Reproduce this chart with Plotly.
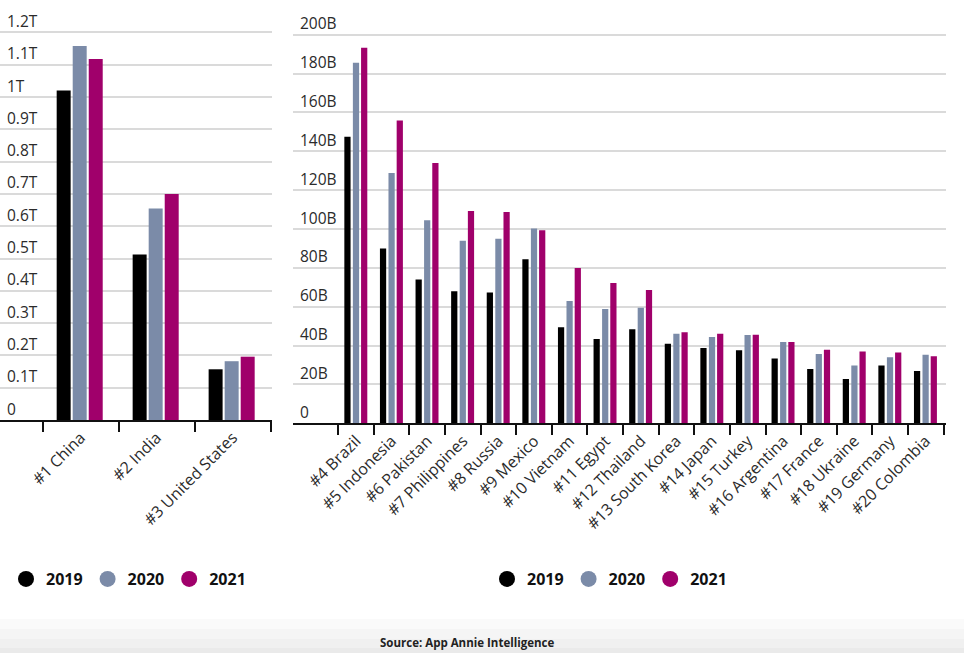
import plotly.graph_objects as go

# ---- data ----
years = ["2019", "2020", "2021"]
colors = ["#000000", "#7b8ba8", "#a0006b"]

top_cats = ["#1 China", "#2 India", "#3 United States"]
top_2019 = [1.02, 0.512, 0.157]   # trillions
top_2020 = [1.158, 0.655, 0.182]
top_2021 = [1.118, 0.700, 0.196]
top_tickvals = [0, 0.1, 0.2, 0.3, 0.4, 0.5, 0.6, 0.7, 0.8, 0.9, 1.0, 1.1, 1.2]
top_ticktext = ["0", "0.1T", "0.2T", "0.3T", "0.4T", "0.5T", "0.6T", "0.7T",
                "0.8T", "0.9T", "1T", "1.1T", "1.2T"]

rest_cats = ["#4 Brazil", "#5 Indonesia", "#6 Pakistan", "#7 Philippines", "#8 Russia",
             "#9 Mexico", "#10 Vietnam", "#11 Egypt", "#12 Thailand", "#13 South Korea",
             "#14 Japan", "#15 Turkey", "#16 Argentina", "#17 France", "#18 Ukraine",
             "#19 Germany", "#20 Colombia"]
rest_2019 = [147.5, 90, 74, 68, 67.3, 84.4, 49.4, 43.4, 48.4, 41, 38.8, 37.6, 33.3, 28, 22.8, 29.7, 26.9]  # billions
rest_2020 = [185.6, 128.8, 104.5, 94, 95, 100.2, 62.9, 58.8, 59.5, 46.1, 44.4, 45.4, 41.8, 35.7, 29.7, 34, 35.3]
rest_2021 = [193.3, 155.9, 134, 109.3, 108.8, 99.3, 79.9, 72.2, 68.6, 46.8, 46.1, 45.6, 41.8, 37.9, 36.9, 36.5, 34.5]
rest_tickvals = [0, 20, 40, 60, 80, 100, 120, 140, 160, 180, 200]
rest_ticktext = ["0", "20B", "40B", "60B", "80B", "100B", "120B", "140B", "160B", "180B", "200B"]

source_text = "Source: App Annie Intelligence"

FONT = "Open Sans"
W, H = 964, 653

fig = go.Figure()

# left chart bars
top_series = [top_2019, top_2020, top_2021]
top_offsets = [-0.316, -0.105, 0.106]
for yr, vals, col, off in zip(years, top_series, colors, top_offsets):
    fig.add_trace(go.Bar(x=top_cats, y=vals, marker=dict(color=col, line=dict(width=0)),
                         width=0.184, offset=off, showlegend=False,
                         xaxis="x", yaxis="y", hoverinfo="x+y", name=yr))

# right chart bars
rest_series = [rest_2019, rest_2020, rest_2021]
rest_offsets = [-0.33, -0.09, 0.14]
for yr, vals, col, off in zip(years, rest_series, colors, rest_offsets):
    fig.add_trace(go.Bar(x=rest_cats, y=vals, marker=dict(color=col, line=dict(width=0)),
                         width=0.175, offset=off, showlegend=False,
                         xaxis="x2", yaxis="y2", hoverinfo="x+y", name=yr))

# legend entries (circles)
for yr, col in zip(years, colors):
    fig.add_trace(go.Scatter(x=[None], y=[None], mode="markers", name=yr,
                             marker=dict(size=20, color=col, symbol="circle"),
                             legend="legend", xaxis="x", yaxis="y"))
    fig.add_trace(go.Scatter(x=[None], y=[None], mode="markers", name=yr,
                             marker=dict(size=20, color=col, symbol="circle"),
                             legend="legend2", xaxis="x2", yaxis="y2"))

grid = "#dadada"
tickfont = dict(family=FONT, size=16, color="#2b2b2b")

common_x = dict(type="category", showgrid=False, zeroline=False, showline=True,
                linecolor="#111111", linewidth=2, ticks="outside", tickson="boundaries",
                ticklen=10, tickwidth=1.5, tickcolor="#111111", tickangle=-45,
                tickfont=tickfont, fixedrange=True, automargin=False)
common_y = dict(showgrid=True, gridcolor=grid, gridwidth=1.5, zeroline=False,
                showline=False, ticks="", ticklabelposition="inside top",
                ticklabelstandoff=4,
                tickfont=dict(family=FONT, size=15.5, color="#2b2b2b"),
                fixedrange=True, automargin=False)

y_bottom_left = 420.0
y_bottom_right = 423.3
px_per_T = 323.0
px_per_B = 1.943

fig.update_layout(
    width=W, height=H,
    margin=dict(l=0, r=0, t=0, b=0, autoexpand=False),
    paper_bgcolor="white", plot_bgcolor="rgba(0,0,0,0)",
    barmode="overlay",
    font=dict(family=FONT, color="#222"),
    xaxis=dict(common_x, domain=[0, 272 / W], range=[-1.062, 2.518], anchor="y"),
    yaxis=dict(common_y, domain=[1 - y_bottom_left / H, 1], range=[0, y_bottom_left / px_per_T],
               tickvals=top_tickvals, ticktext=top_ticktext, anchor="x"),
    xaxis2=dict(common_x, domain=[293 / W, 946 / W], range=[-1.772, 16.57], anchor="y2"),
    yaxis2=dict(common_y, domain=[1 - y_bottom_right / H, 1], range=[0, y_bottom_right / px_per_B],
                tickvals=rest_tickvals, ticktext=rest_ticktext, anchor="x2"),
    legend=dict(orientation="h", xref="container", yref="container",
                x=6 / W, y=1 - 579 / H, xanchor="left", yanchor="middle",
                font=dict(family=FONT, size=16, color="#111", weight="bold"),
                bgcolor="rgba(0,0,0,0)", itemsizing="trace"),
    legend2=dict(orientation="h", xref="container", yref="container",
                 x=487 / W, y=1 - 579 / H, xanchor="left", yanchor="middle",
                 font=dict(family=FONT, size=16, color="#111", weight="bold"),
                 bgcolor="rgba(0,0,0,0)", itemsizing="trace"),
    annotations=[dict(text=source_text, xref="paper", yref="paper",
                      x=467 / W, y=1 - 642 / H, xanchor="center", yanchor="middle",
                      showarrow=False,
                      font=dict(family=FONT, size=11.5, color="#222", weight="bold"))],
    shapes=[
        dict(type="rect", xref="paper", yref="paper", x0=0, x1=1, y0=0, y1=34 / H,
             fillcolor="#fafafa", line=dict(width=0), layer="below"),
        dict(type="rect", xref="paper", yref="paper", x0=0, x1=1, y0=0, y1=24 / H,
             fillcolor="#f5f5f5", line=dict(width=0), layer="below"),
        dict(type="rect", xref="paper", yref="paper", x0=0, x1=1, y0=0, y1=14 / H,
             fillcolor="#f0f0f0", line=dict(width=0), layer="below"),
        dict(type="rect", xref="paper", yref="paper", x0=0, x1=1, y0=0, y1=5 / H,
             fillcolor="#eaeaea", line=dict(width=0), layer="below"),
    ],
)

fig.write_html("out.html", config={"displayModeBar": False},
               post_script="document.body.style.margin='0';document.body.style.overflow='hidden';")
